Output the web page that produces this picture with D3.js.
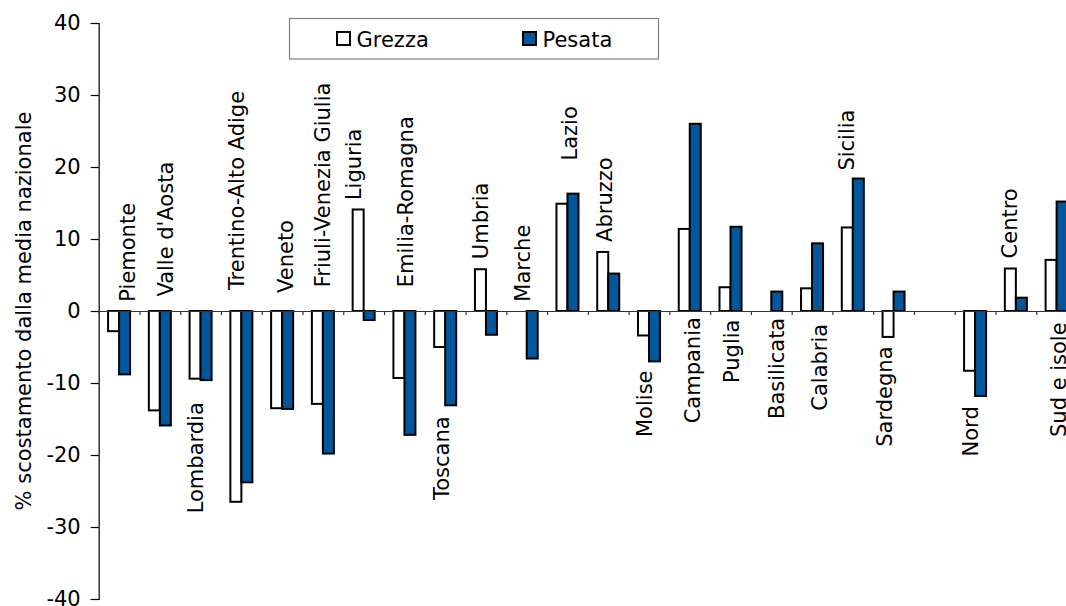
<!DOCTYPE html>
<html><head><meta charset="utf-8">
<script src="https://cdn.jsdelivr.net/npm/d3@7"></script>
<style>
body{margin:0;background:#fff}
svg{display:block}
text{font-family:"DejaVu Sans",Verdana,sans-serif;fill:#000}
</style>
</head><body>
<svg id="chart" width="1066" height="606"></svg>
<script>
// ---- data ----
const categories = ["Piemonte","Valle d'Aosta","Lombardia","Trentino-Alto Adige","Veneto","Friuli-Venezia Giulia","Liguria","Emilia-Romagna","Toscana","Umbria","Marche","Lazio","Abruzzo","Molise","Campania","Puglia","Basilicata","Calabria","Sicilia","Sardegna","","Nord","Centro","Sud e isole"];
const grezza = [-2.8,-13.8,-9.4,-26.5,-13.5,-12.9,14.1,-9.3,-5.0,5.8,0,14.9,8.2,-3.4,11.4,3.3,0,3.15,11.6,-3.6,null,-8.3,5.9,7.1];
const pesata = [-8.8,-15.9,-9.6,-23.8,-13.6,-19.8,-1.25,-17.2,-13.1,-3.3,-6.6,16.3,5.2,-7.0,26.0,11.7,2.7,9.4,18.4,2.7,null,-11.8,1.85,15.2];
// where each rotated category label begins (value units) and its shift from the band centre (in band steps)
const labelAt = [1.3,2.0,-28.1,2.9,2.5,3.3,15.4,3.3,-26.25,7.2,1.3,20.9,9.6,-17.5,-15.6,-10.0,-15.0,-13.85,19.5,-18.85,0,-20.2,7.3,-17.5];
const labelShift = [0.39,0.33,0.07,0.07,0.26,0.17,-0.06,0.21,0.10,0.06,0.07,0.23,0.09,0.07,0.25,0.21,0.32,0.36,0.03,-0.03,0,0.08,0.04,0.24];
const seriesNames = ["Grezza","Pesata"];
const yTicks = [-40,-30,-20,-10,0,10,20,30,40];
const yTitle = "% scostamento dalla media nazionale";

(function(){
// ---- layout ----
const svg = d3.select("#chart");
const fontSize = 21;
const colors = {Grezza:"#ffffff", Pesata:"#00579b"};
const mLeft = 98.7, mRight = 1077, mTop = 23, mBottom = 599;

const y = d3.scaleLinear().domain([-40,40]).range([mBottom, mTop]);
const x0 = d3.scaleBand().domain(d3.range(categories.length)).range([mLeft, mRight])
  .paddingInner(0.46).paddingOuter(0.23);
const x1 = d3.scaleBand().domain(seriesNames).range([0, x0.bandwidth()]);
const xEdge = d3.scaleLinear().domain([0, categories.length]).range([mLeft, mRight]);

// y axis
const yAxis = svg.append("g").attr("transform", `translate(${mLeft},0)`)
  .call(d3.axisLeft(y).tickValues(yTicks).tickSize(8).tickPadding(10).tickFormat(d => String(d)));
yAxis.selectAll("text").style("font-size", fontSize+"px").style("font-family",'"DejaVu Sans",Verdana,sans-serif');
yAxis.select(".domain").attr("stroke","#000").attr("stroke-width",1.2);
yAxis.selectAll(".tick line").attr("stroke","#000").attr("stroke-width",1.2);

// y title
svg.append("text")
  .attr("transform", `translate(31,${(mTop+mBottom)/2}) rotate(-90)`)
  .attr("text-anchor","middle")
  .style("font-size", fontSize+"px")
  .text(yTitle);

// bars
const data = categories.map((c,i) => ({i, vals: [{s:"Grezza", v:grezza[i]}, {s:"Pesata", v:pesata[i]}]}));
const groups = svg.append("g").selectAll("g").data(data).join("g")
  .attr("transform", d => `translate(${x0(d.i)},0)`);
groups.selectAll("rect").data(d => d.vals.filter(e => e.v !== null && e.v !== 0)).join("rect")
  .attr("x", d => x1(d.s))
  .attr("width", x1.bandwidth())
  .attr("y", d => Math.min(y(d.v), y(0)))
  .attr("height", d => Math.abs(y(d.v) - y(0)))
  .attr("fill", d => colors[d.s])
  .attr("stroke", "#000")
  .attr("stroke-width", 2);

// x axis at zero with category boundary ticks
const xAxis = svg.append("g").attr("transform", `translate(0,${y(0)})`)
  .call(d3.axisBottom(xEdge).tickValues(d3.range(0, categories.length + 1)).tickSize(4).tickSizeOuter(0).tickFormat(""));
xAxis.select(".domain").attr("stroke","#333").attr("stroke-width",1.2);
xAxis.selectAll(".tick line").attr("stroke","#333").attr("stroke-width",1.2);

// category labels
svg.append("g").selectAll("text").data(categories.map((c,i)=>({c,i})).filter(d => d.c !== "")).join("text")
  .attr("transform", d => `translate(${x0(d.i) + x0.bandwidth()/2 + labelShift[d.i]*x0.step()},${y(labelAt[d.i])}) rotate(-90)`)
  .attr("text-anchor","start")
  .style("font-size", fontSize+"px")
  .text(d => d.c);

// legend
const lg = svg.append("g");
lg.append("rect").attr("x",289.5).attr("y",18.5).attr("width",369).attr("height",40.5)
  .attr("fill","#fff").attr("stroke","#808080").attr("stroke-width",1.2);
const legendX = [337, 523];
seriesNames.forEach((s, k) => {
  lg.append("rect").attr("x", legendX[k]).attr("y", 32).attr("width", 13).attr("height", 13)
    .attr("fill", colors[s]).attr("stroke","#000").attr("stroke-width",2);
  lg.append("text").attr("x", legendX[k] + 19.5).attr("y", 46.5)
    .style("font-size", fontSize+"px").text(s);
});
})();
</script>
</body></html>
